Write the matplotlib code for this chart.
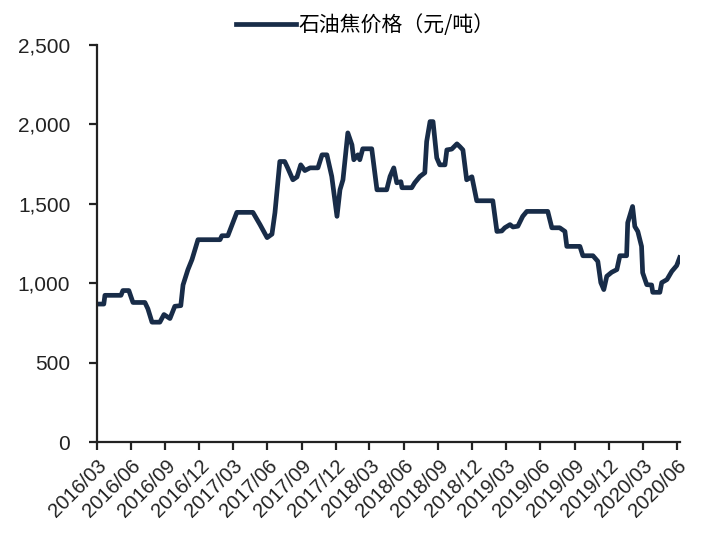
import numpy as np
import matplotlib
matplotlib.use("Agg")
import matplotlib.pyplot as plt

plt.rcParams["font.family"] = ["Liberation Sans", "Noto Sans CJK SC", "DejaVu Sans"]

# 石油焦价格 (元/吨)
dates = [
    "2016-03-02", "2016-03-20", "2016-03-23", "2016-05-05", "2016-05-10", "2016-05-26",
    "2016-06-06", "2016-07-08", "2016-07-16", "2016-07-27", "2016-08-17", "2016-08-28",
    "2016-09-13", "2016-09-26", "2016-10-12", "2016-10-18", "2016-10-31", "2016-11-11",
    "2016-11-27", "2017-01-25", "2017-01-30", "2017-02-15", "2017-03-11", "2017-04-23",
    "2017-05-12", "2017-05-31", "2017-06-13", "2017-06-21", "2017-07-04", "2017-07-17",
    "2017-07-25", "2017-08-08", "2017-08-19", "2017-08-29", "2017-09-09", "2017-09-23",
    "2017-10-14", "2017-10-25", "2017-11-07", "2017-11-20", "2017-12-04", "2017-12-12",
    "2017-12-20", "2018-01-02", "2018-01-13", "2018-01-18", "2018-01-29", "2018-02-03",
    "2018-02-11", "2018-03-07", "2018-03-21", "2018-04-16", "2018-04-25", "2018-05-05",
    "2018-05-13", "2018-05-24", "2018-05-27", "2018-06-22", "2018-06-30", "2018-07-14",
    "2018-07-27", "2018-08-01", "2018-08-10", "2018-08-18", "2018-08-28", "2018-09-05",
    "2018-09-19", "2018-09-24", "2018-10-07", "2018-10-21", "2018-10-29", "2018-11-06",
    "2018-11-16", "2018-11-30", "2018-12-13", "2019-01-25", "2019-02-05", "2019-02-18",
    "2019-02-26", "2019-03-12", "2019-03-20", "2019-04-02", "2019-04-15", "2019-04-26",
    "2019-06-21", "2019-07-02", "2019-07-23", "2019-08-06", "2019-08-11", "2019-09-15",
    "2019-09-23", "2019-10-20", "2019-11-02", "2019-11-10", "2019-11-18", "2019-11-26",
    "2019-12-09", "2019-12-23", "2019-12-31", "2020-01-18", "2020-01-21", "2020-02-03",
    "2020-02-09", "2020-02-17", "2020-02-27", "2020-03-01", "2020-03-12", "2020-03-25",
    "2020-03-28", "2020-04-16", "2020-04-21", "2020-05-05", "2020-05-18", "2020-05-31",
    "2020-06-08",
]
price = [
    870, 870, 925, 925, 955, 955,
    880, 880, 840, 756, 756, 804,
    779, 856, 860, 990, 1086, 1150,
    1275, 1275, 1300, 1300, 1447, 1447,
    1370, 1288, 1310, 1445, 1767, 1767,
    1727, 1652, 1670, 1746, 1710, 1727,
    1727, 1809, 1809, 1673, 1422, 1589,
    1652, 1947, 1872, 1778, 1809, 1778,
    1847, 1847, 1589, 1589, 1673, 1727,
    1633, 1640, 1602, 1602, 1633, 1673,
    1696, 1893, 2018, 2018, 1790, 1746,
    1746, 1840, 1845, 1878, 1860, 1840,
    1652, 1671, 1520, 1520, 1327, 1330,
    1350, 1370, 1355, 1360, 1422, 1453,
    1453, 1350, 1350, 1327, 1233, 1233,
    1174, 1174, 1139, 1005, 961, 1045,
    1070, 1087, 1174, 1174, 1382, 1484,
    1358, 1327, 1233, 1067, 992, 990,
    944, 944, 1005, 1024, 1076, 1112,
    1162,
]
tick_dates = ["2016-03", "2016-06", "2016-09", "2016-12", "2017-03", "2017-06",
              "2017-09", "2017-12", "2018-03", "2018-06", "2018-09", "2018-12",
              "2019-03", "2019-06", "2019-09", "2019-12", "2020-03", "2020-06"]
yticks = [0, 500, 1000, 1500, 2000, 2500]

x = np.array(dates, dtype="datetime64[D]")
ticks = np.array(tick_dates, dtype="datetime64[M]").astype("datetime64[D]")

fig = plt.figure(figsize=(7.19, 5.41), dpi=100)
ax = fig.add_axes([0.1345, 0.1824, 0.8113, 0.7344])

line_color = "#182c48"
ax.plot(x, price, color=line_color, lw=3.4, solid_joinstyle="round",
        label="石油焦价格（元/吨）")

ax.set_xlim(np.datetime64("2016-03-01"), np.datetime64("2020-06-09"))
ax.set_ylim(0, 2500)
ax.set_yticks(yticks)
ax.set_yticklabels([f"{v:,}" for v in yticks])
ax.set_xticks(ticks)
ax.set_xticklabels([t.replace("-", "/") for t in tick_dates],
                   rotation=45, ha="right", rotation_mode="anchor")

for side in ("top", "right"):
    ax.spines[side].set_visible(False)
for side in ("left", "bottom"):
    ax.spines[side].set_color("#222222")
    ax.spines[side].set_linewidth(1.6)

ax.tick_params(axis="y", direction="out", length=6, width=1.6, pad=13,
               labelsize=15, colors="#222222")
ax.tick_params(axis="x", direction="out", length=6, width=1.6, pad=4,
               labelsize=14.5, colors="#222222")

fig.legend(loc="center", bbox_to_anchor=(0.508, 0.954), frameon=False,
           handlelength=2.9, handletextpad=0.1,
           prop={"family": ["Noto Sans CJK SC", "DejaVu Sans"], "size": 15})

fig.savefig("out.png", dpi=100)
